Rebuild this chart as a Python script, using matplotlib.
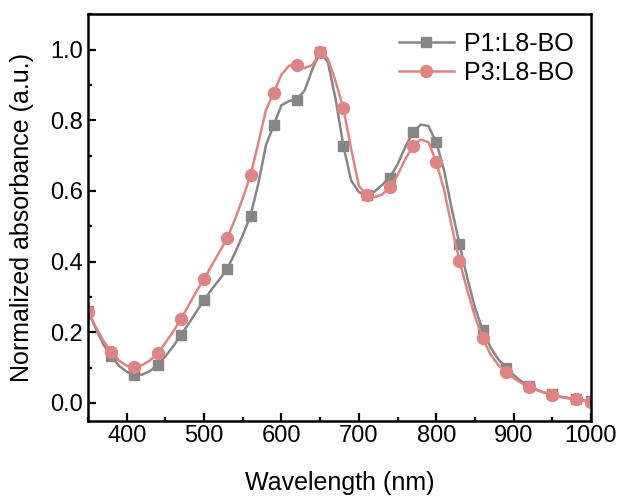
import numpy as np
import matplotlib
matplotlib.use("Agg")
import matplotlib.pyplot as plt
from matplotlib.ticker import MultipleLocator

# wavelength grid (nm), markers every third point
wavelength = np.arange(350, 1001, 10)

p1_l8bo = [0.260, 0.210, 0.165, 0.132, 0.105, 0.088, 0.079, 0.080, 0.090, 0.107,
           0.132, 0.160, 0.192, 0.224, 0.258, 0.291, 0.322, 0.350, 0.380, 0.425,
           0.475, 0.530, 0.620, 0.730, 0.787, 0.843, 0.855, 0.859, 0.885, 0.945,
           0.995, 0.965, 0.860, 0.728, 0.630, 0.597, 0.588, 0.598, 0.617, 0.638,
           0.675, 0.725, 0.766, 0.788, 0.784, 0.738, 0.660, 0.550, 0.450, 0.355,
           0.270, 0.206, 0.158, 0.124, 0.100, 0.079, 0.061, 0.047, 0.037, 0.029,
           0.024, 0.018, 0.014, 0.010, 0.007, 0.005]

p3_l8bo = [0.258, 0.215, 0.175, 0.145, 0.120, 0.105, 0.101, 0.107, 0.120, 0.140,
           0.170, 0.202, 0.237, 0.276, 0.315, 0.352, 0.390, 0.428, 0.467, 0.520,
           0.580, 0.644, 0.735, 0.830, 0.878, 0.930, 0.955, 0.958, 0.948, 0.957,
           0.993, 0.975, 0.910, 0.834, 0.720, 0.615, 0.588, 0.582, 0.590, 0.610,
           0.645, 0.690, 0.728, 0.746, 0.738, 0.682, 0.605, 0.500, 0.402, 0.320,
           0.245, 0.183, 0.138, 0.108, 0.088, 0.070, 0.056, 0.046, 0.036, 0.029,
           0.023, 0.017, 0.013, 0.010, 0.006, 0.002]

plt.rcParams.update({"font.family": "Liberation Sans", "font.size": 17})

fig = plt.figure(figsize=(6.23, 4.98), dpi=100)
ax = fig.add_axes([0.1413, 0.1556, 0.8073, 0.8154])

marks = list(range(0, len(wavelength), 3)) + [len(wavelength) - 1]
ax.plot(wavelength, p1_l8bo, color="#868686", linewidth=1.8, marker="s", markersize=7.2,
        markevery=marks, label="P1:L8-BO")
ax.plot(wavelength, p3_l8bo, color="#DE8483", linewidth=1.8, marker="o", markersize=8.6,
        markevery=marks, label="P3:L8-BO")

ax.set_xlim(350, 1000)
ax.set_ylim(-0.05, 1.1)
ax.xaxis.set_major_locator(MultipleLocator(100))
ax.xaxis.set_minor_locator(MultipleLocator(50))
ax.yaxis.set_major_locator(MultipleLocator(0.2))
ax.yaxis.set_minor_locator(MultipleLocator(0.1))
ax.tick_params(which="both", direction="in", width=1.6, top=False, right=False, labelsize=17)
ax.tick_params(which="major", length=6)
ax.tick_params(which="minor", length=3)
for spine in ax.spines.values():
    spine.set_linewidth(1.8)

ax.set_xlabel("Wavelength (nm)", fontsize=18, labelpad=17)
ax.set_ylabel("Normalized absorbance (a.u.)", fontsize=18, labelpad=12)

ax.legend(loc="upper right", frameon=False, fontsize=18, handlelength=2.2,
          handletextpad=0.4, labelspacing=0.2, borderaxespad=0.3)

fig.savefig("out.png", dpi=100)
